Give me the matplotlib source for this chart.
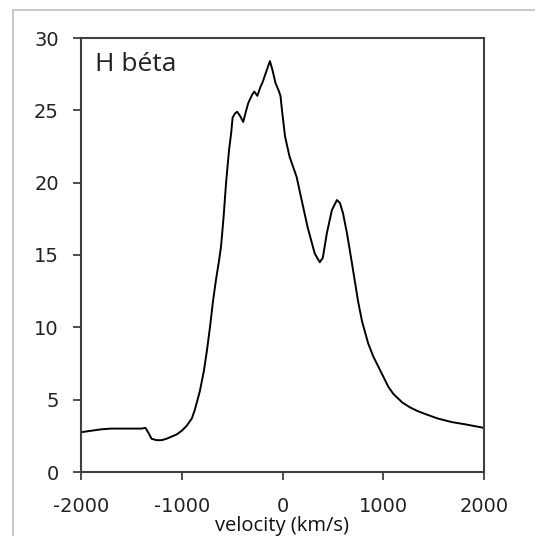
import matplotlib
matplotlib.use("Agg")
import matplotlib.pyplot as plt
from matplotlib.patches import Rectangle

# Data (velocity in km/s, relative flux)
velocity = [-2000, -1900, -1800, -1700, -1600, -1500, -1400, -1360, -1330, -1300,
            -1250, -1200, -1150, -1100, -1050, -1000, -950, -900, -870, -820,
            -780, -750, -720, -690, -660, -630, -610, -585, -560, -530,
            -510, -495, -470, -450, -420, -390, -360, -340, -300, -280,
            -250, -220, -200, -175, -150, -125, -100, -70, -40, -20,
            -5, 25, 70, 140, 190, 250, 320, 370, 400, 440,
            490, 540, 570, 600, 640, 690, 720, 750, 790, 850,
            900, 950, 1000, 1050, 1100, 1190, 1270, 1345, 1440, 1540,
            1680, 1810, 2000]
flux = [2.75, 2.85, 2.95, 3.0, 3.0, 3.0, 3.0, 3.05, 2.7, 2.3,
        2.2, 2.2, 2.3, 2.45, 2.6, 2.85, 3.2, 3.7, 4.3, 5.6,
        7.0, 8.4, 10.0, 11.8, 13.3, 14.6, 15.6, 17.6, 20.0, 22.3,
        23.4, 24.5, 24.8, 24.9, 24.6, 24.2, 25.0, 25.5, 26.1, 26.3,
        26.0, 26.6, 26.9, 27.4, 27.9, 28.4, 27.8, 26.9, 26.4, 26.0,
        25.0, 23.2, 21.8, 20.4, 18.8, 16.9, 15.1, 14.5, 14.8, 16.5,
        18.1, 18.8, 18.6, 17.9, 16.5, 14.4, 13.1, 11.8, 10.4, 8.9,
        8.0, 7.3, 6.6, 5.9, 5.4, 4.8, 4.45, 4.2, 3.95, 3.7,
        3.45, 3.3, 3.05]

x_ticks = [-2000, -1000, 0, 1000, 2000]
y_ticks = [0, 5, 10, 15, 20, 25, 30]
title_text = "H béta"
x_label = "velocity (km/s)"

plt.rcParams['axes.unicode_minus'] = False

W, H = 535, 536
fig = plt.figure(figsize=(W / 100, H / 100), dpi=100)

# outer chart-area border
fig.patches.append(Rectangle((13 / W, -0.1), 1.2, 1 - 10 / H + 0.1,
                             transform=fig.transFigure, fill=False,
                             edgecolor='#c8c8c8', linewidth=1.4))

ax = fig.add_axes([81 / W, 1 - 472 / H, (484 - 81) / W, (472 - 38) / H])
ax.plot(velocity, flux, color='black', linewidth=1.4)

ax.set_xlim(-2000, 2000)
ax.set_ylim(0, 30)
ax.set_xticks(x_ticks)
ax.set_yticks(y_ticks)
ax.set_xticklabels([str(v) for v in x_ticks])
ax.set_yticklabels([str(v) for v in y_ticks])

for s in ax.spines.values():
    s.set_color('#404040')
    s.set_linewidth(1.5)

ax.tick_params(axis='both', direction='out', length=6, width=1.3,
               color='#404040', labelsize=14, labelcolor='#222222',
               labelfontfamily='DejaVu Sans')
ax.tick_params(axis='x', pad=12)
ax.tick_params(axis='y', pad=10)

ax.text(0.035, 0.968, title_text, transform=ax.transAxes, ha='left', va='top',
        fontsize=19, family='Open Sans', color='#222222')

fig.text(282 / W, 1 - 531 / H, x_label, ha='center', va='baseline',
         fontsize=14.5, family='Open Sans', color='#111111')

fig.savefig('out.png', dpi=100)
